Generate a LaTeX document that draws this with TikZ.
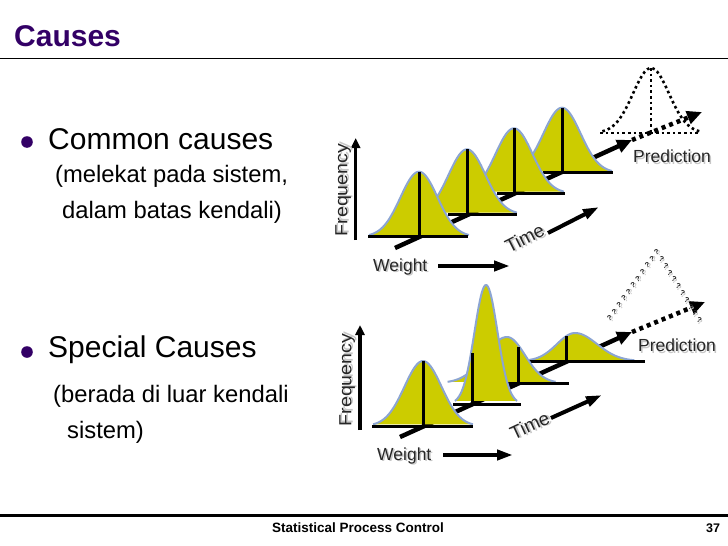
\documentclass[tikz,border=0pt]{standalone}
\usepackage{fontspec}
\setmainfont{Liberation Sans}
\usetikzlibrary{arrows.meta}

\definecolor{titlepurple}{RGB}{51,0,102}
\definecolor{bellyellow}{RGB}{204,204,0}
\definecolor{bellblue}{RGB}{140,165,210}

% text with a light grey drop shadow
\newcommand\shadowed[1]{\makebox[0pt][l]{\hspace{1.5pt}\raisebox{-1.5pt}{\color{black!22}#1}}{\color{black!85}#1}}
% bell curve: #1 mean x, #2 base y, #3 left sigma, #4 right sigma, #5 height
\newcommand\bellcurve[5]{
	\fill [bellfill] plot[domain=-2.7:0,samples=30] ({#1+#3*\x},{#2-#5*exp(-0.5*\x*\x)})
		-- plot[domain=0:2.7,samples=30] ({#1+#4*\x},{#2-#5*exp(-0.5*\x*\x)}) -- cycle;
	\draw [bellline] plot[domain=-2.7:0,samples=30] ({#1+#3*\x},{#2-#5*exp(-0.5*\x*\x)})
		-- plot[domain=0:2.7,samples=30] ({#1+#4*\x},{#2-#5*exp(-0.5*\x*\x)});
}

\begin{document}
\begin{tikzpicture}[x=1pt,y=-1pt,
	bellfill/.style={fill=bellyellow},
	bellline/.style={draw=bellblue,line width=2pt},
	blackbar/.style={black,line width=3pt},
	timeline/.style={black,line width=4.5pt,-{Triangle[length=15pt,width=13pt]}},
	dotarrow/.style={black,line width=4.5pt,dash pattern=on 4pt off 4pt,-{Triangle[length=15pt,width=13pt]}},
	predline/.style={black,line width=2.6pt,dash pattern=on 2.6pt off 3pt},
	freqarrow/.style={black,line width=3.5pt,-{Triangle[length=10pt,width=9pt]}},
	labarrow/.style={black,line width=4pt,-{Triangle[length=16pt,width=10pt]}},
	lab/.style={inner sep=0pt,font=\fontsize{17.5}{20}\selectfont},
	bigtext/.style={inner sep=0pt,anchor=base west,font=\fontsize{30}{34}\selectfont},
	subtext/.style={inner sep=0pt,anchor=base west,font=\fontsize{23.8}{27}\selectfont},
	qmark/.style={inner sep=0pt,text=black!55,font=\fontsize{7.5}{8}\selectfont\bfseries}]
%	\draw[help lines, color=black!30, step=50pt,ultra thin](0,0)grid(728,546);
	\useasboundingbox (0,0) rectangle (728,546);
	
	% title and rules
	\node (title) at (14,46)[anchor=base west,inner sep=0pt,text=titlepurple,font=\fontsize{30}{34}\selectfont\bfseries]{Causes};
	\draw [black,line width=1.5pt](0,58.7)--(728,58.7);
	\draw [black,line width=3pt](0,515)--(728,515);
	\node (footer) at (272,532)[anchor=base west,inner sep=0pt,font=\fontsize{13.5}{16}\selectfont\bfseries]{Statistical Process Control};
	\node (pagenum) at (713,532)[anchor=base,inner sep=0pt,font=\fontsize{12.5}{15}\selectfont\bfseries]{37};
	
	% left text
	\fill [titlepurple](27,142) circle (5.8);
	\fill [titlepurple](27,352) circle (5.8);
	\node (common) at (48,149)[bigtext]{Common causes};
	\node (commonA) at (55,182)[subtext]{(melekat pada sistem,};
	\node (commonB) at (62,218)[subtext]{dalam batas kendali)};
	\node (special) at (48,357)[bigtext]{Special Causes};
	\node (specialA) at (53,402)[subtext]{(berada di luar kendali};
	\node (specialB) at (67,438)[subtext]{sistem)};
	
	% upper chart: common causes
	\begin{scope}
		\draw [timeline](395,248)--(632,140);
		\draw [dotarrow](632,140)--(702,112);
		\draw [predline] plot[domain=-2.7:2.7,samples=40] ({651+18*\x},{133-65*exp(-0.5*\x*\x)});
		\draw [predline](600,133)--(698,133);
		\draw [predline](651,68)--(651,133);
		
		\bellcurve{562}{172.7}{18.5}{18.5}{65}
		\draw [blackbar](543,172.7)--(613,172.7);
		\draw [blackbar](562,107.7)--(562,172.7);
		\bellcurve{514}{193.3}{18.5}{18.5}{65}
		\draw [blackbar](497,193.3)--(565,193.3);
		\draw [blackbar](514,128.3)--(514,193.3);
		\bellcurve{467}{214.3}{18.5}{18.5}{65}
		\draw [blackbar](448,214.3)--(517,214.3);
		\draw [blackbar](467,149.3)--(467,214.3);
		\bellcurve{419}{236.7}{18.5}{18.5}{65}
		\draw [blackbar](368,236.7)--(468,236.7);
		\draw [blackbar](419,171.7)--(419,236.7);
		
		\draw [freqarrow](355.7,240)--(355.7,138);
		\node (freqA) at (344,190)[lab,rotate=90,xscale=1.12]{\shadowed{Frequency}};
		\node (weightA) at (373,271)[lab,anchor=base west]{\shadowed{Weight}};
		\draw [labarrow](438,266)--(510,266);
		\node (timeA) at (525,239)[lab,rotate=27,scale=1.08]{\shadowed{Time}};
		\draw [labarrow](548,233)--(599,207);
		\node (predA) at (672,157)[lab]{\shadowed{Prediction}};
	\end{scope}
	
	% lower chart: special causes
	\begin{scope}
		\draw [timeline](400,437)--(632,332);
		\draw [dotarrow](632,332)--(705,302);
		\foreach \t in {0,...,10}
			\node (ql\t) at ({610+47*\t/10},{319-66*\t/10})[qmark,rotate=25]{\shadowed{?}};
		\foreach \t in {1,...,10}
			\node (qr\t) at ({657+42*\t/10},{253+68*\t/10})[qmark,rotate=-25]{\shadowed{?}};
		
		\bellcurve{575}{361}{18}{22}{28}
		\draw [blackbar](525,361)--(645,361);
		\draw [blackbar](566,336)--(566,361);
		\bellcurve{507}{383}{22}{18}{46}
		\draw [blackbar](490,383)--(569,383);
		\draw [blackbar](518,347)--(518,383);
		\bellcurve{486}{404}{11.5}{11.5}{119}
		\draw [blackbar](453,404)--(521,404);
		\draw [blackbar](472,353)--(472,404);
		\bellcurve{423}{426}{18.5}{18.5}{65}
		\draw [blackbar](372,426)--(473,426);
		\draw [blackbar](423,361)--(423,426);
		
		\draw [freqarrow](360,430)--(360,325);
		\node (freqB) at (348,380)[lab,rotate=90,xscale=1.12]{\shadowed{Frequency}};
		\node (weightB) at (377,460)[lab,anchor=base west]{\shadowed{Weight}};
		\draw [labarrow](443,455)--(513,455);
		\node (timeB) at (530,426)[lab,rotate=25,scale=1.08]{\shadowed{Time}};
		\draw [labarrow](551,418)--(602,395);
		\node (predB) at (677,346)[lab]{\shadowed{Prediction}};
	\end{scope}
	
\end{tikzpicture}
\end{document}
